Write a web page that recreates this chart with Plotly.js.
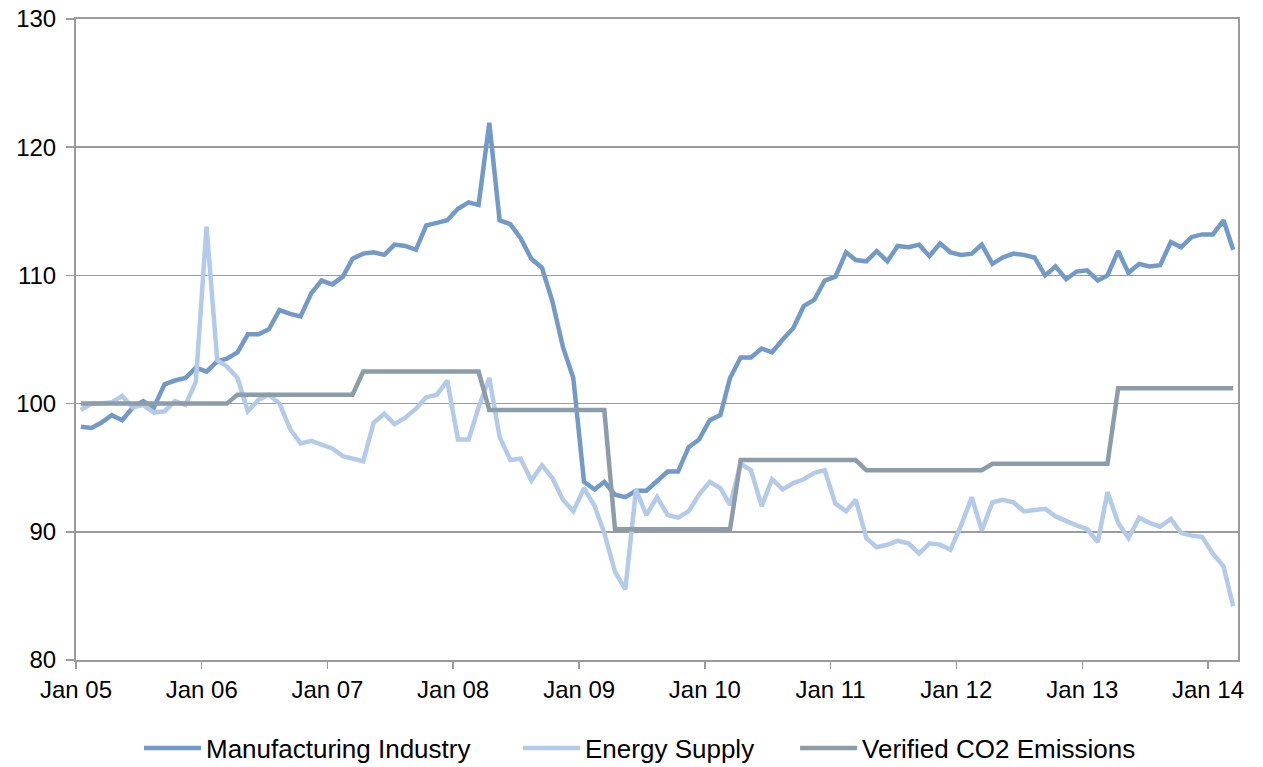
<!DOCTYPE html>
<html>
<head>
<meta charset="utf-8">
<script src="https://cdn.plot.ly/plotly-3.0.1.min.js"></script>
<style>
  html, body { margin: 0; padding: 0; background: #fff; }
  #grafico { width: 1263px; height: 767px; }
</style>
</head>
<body>
<div id="grafico"></div>
<script>
// Monatswerte Jan 2005 - Mrz 2014 (Index, 2005 = 100)
const manufacturing = [
  98.2, 98.1, 98.5, 99.1, 98.7, 99.7, 100.2, 99.7, 101.5, 101.8, 102.0, 102.8,
  102.5, 103.3, 103.5, 104.0, 105.4, 105.4, 105.8, 107.3, 107.0, 106.8, 108.6, 109.6,
  109.3, 109.9, 111.3, 111.7, 111.8, 111.6, 112.4, 112.3, 112.0, 113.9, 114.1, 114.3,
  115.2, 115.7, 115.5, 121.9, 114.3, 114.0, 112.9, 111.3, 110.6, 108.0, 104.4, 102.0,
  93.9, 93.3, 93.9, 92.9, 92.7, 93.2, 93.2, 94.0, 94.7, 94.7, 96.6, 97.2,
  98.7, 99.1, 102.0, 103.6, 103.6, 104.3, 104.0, 105.0, 105.9, 107.6, 108.1, 109.6,
  109.9, 111.8, 111.2, 111.1, 111.9, 111.1, 112.3, 112.2, 112.4, 111.5, 112.5, 111.8,
  111.6, 111.7, 112.4, 110.9, 111.4, 111.7, 111.6, 111.4, 110.0, 110.7, 109.7, 110.3,
  110.4, 109.6, 110.0, 111.9, 110.2, 110.9, 110.7, 110.8, 112.6, 112.2, 113.0, 113.2,
  113.2, 114.3, 112.0
];

const energySupply = [
  99.5, 100.0, 100.0, 100.1, 100.6, 99.7, 99.9, 99.3, 99.4, 100.2, 99.9, 101.7,
  113.8, 103.4, 102.9, 102.0, 99.4, 100.3, 100.7, 100.0, 98.0, 96.9, 97.1, 96.8,
  96.5, 95.9, 95.7, 95.5, 98.5, 99.2, 98.4, 98.9, 99.6, 100.5, 100.7, 101.8,
  97.2, 97.2, 99.7, 102.0, 97.4, 95.6, 95.7, 94.0, 95.2, 94.2, 92.5, 91.6,
  93.4, 92.0, 89.9, 86.9, 85.5, 93.3, 91.3, 92.7, 91.3, 91.1, 91.6, 92.9,
  93.9, 93.4, 92.1, 95.3, 94.8, 92.0, 94.1, 93.3, 93.8, 94.1, 94.6, 94.8,
  92.2, 91.6, 92.5, 89.5, 88.8, 89.0, 89.3, 89.1, 88.3, 89.1, 89.0, 88.6,
  90.5, 92.7, 90.1, 92.3, 92.5, 92.3, 91.6, 91.7, 91.8, 91.2, 90.8, 90.5,
  90.2, 89.2, 93.1, 90.7, 89.5, 91.1, 90.7, 90.4, 91.0, 89.9, 89.7, 89.6,
  88.3, 87.3, 84.2
];

const verifiedCO2 = [
  100.0, 100.0, 100.0, 100.0, 100.0, 100.0, 100.0, 100.0, 100.0, 100.0, 100.0, 100.0,
  100.0, 100.0, 100.0, 100.7, 100.7, 100.7, 100.7, 100.7, 100.7, 100.7, 100.7, 100.7,
  100.7, 100.7, 100.7, 102.5, 102.5, 102.5, 102.5, 102.5, 102.5, 102.5, 102.5, 102.5,
  102.5, 102.5, 102.5, 99.5, 99.5, 99.5, 99.5, 99.5, 99.5, 99.5, 99.5, 99.5,
  99.5, 99.5, 99.5, 90.2, 90.2, 90.2, 90.2, 90.2, 90.2, 90.2, 90.2, 90.2,
  90.2, 90.2, 90.2, 95.6, 95.6, 95.6, 95.6, 95.6, 95.6, 95.6, 95.6, 95.6,
  95.6, 95.6, 95.6, 94.8, 94.8, 94.8, 94.8, 94.8, 94.8, 94.8, 94.8, 94.8,
  94.8, 94.8, 94.8, 95.3, 95.3, 95.3, 95.3, 95.3, 95.3, 95.3, 95.3, 95.3,
  95.3, 95.3, 95.3, 101.2, 101.2, 101.2, 101.2, 101.2, 101.2, 101.2, 101.2, 101.2,
  101.2, 101.2, 101.2
];

const tickYears = [2005, 2006, 2007, 2008, 2009, 2010, 2011, 2012, 2013, 2014];

// Monatsmitte als Datum
const meses = manufacturing.map((_, i) => {
    const year = 2005 + Math.floor(i / 12);
    const month = String(i % 12 + 1).padStart(2, '0');
    return year + '-' + month + '-15';
});

const fuente = { family: 'Liberation Sans, Arial, sans-serif', size: 24, color: '#000000' };
const fuenteLeyenda = { family: 'Liberation Sans, Arial, sans-serif', size: 26, color: '#000000' };
const gris = '#9b9b9b';

const traces = [
    {
        x: meses, y: manufacturing, name: 'Manufacturing Industry',
        type: 'scatter', mode: 'lines', legend: 'legend',
        line: { color: '#7399c7', width: 4.5 }
    },
    {
        x: meses, y: energySupply, name: 'Energy Supply',
        type: 'scatter', mode: 'lines', legend: 'legend2',
        line: { color: '#b3cbe9', width: 4.5 }
    },
    {
        x: meses, y: verifiedCO2, name: 'Verified CO2 Emissions',
        type: 'scatter', mode: 'lines', legend: 'legend3',
        line: { color: '#8c9ca9', width: 4.5 }
    }
];

// eine Legende pro Serie, damit die Abstände wie im Original sind
function leyenda(x) {
    return {
        orientation: 'h',
        x: x, xanchor: 'left',
        y: -0.1373, yanchor: 'middle',
        font: fuenteLeyenda,
        itemwidth: 57,
        bgcolor: 'rgba(0,0,0,0)'
    };
}

const layout = {
    width: 1263,
    height: 767,
    margin: { l: 76, r: 25, t: 19, b: 107, autoexpand: false },
    paper_bgcolor: '#ffffff',
    plot_bgcolor: '#ffffff',
    font: fuente,
    showlegend: true,
    legend: leyenda(0.0542),
    legend2: leyenda(0.3804),
    legend3: leyenda(0.6188),
    xaxis: {
        type: 'date',
        range: ['2005-01-01', '2014-03-29'],
        tickvals: tickYears.map(y => y + '-01-01'),
        ticktext: tickYears.map(y => 'Jan ' + String(y).slice(2)),
        ticks: 'outside', ticklen: 7, tickwidth: 1.5, tickcolor: gris,
        showline: true, linecolor: gris, linewidth: 2, mirror: true,
        showgrid: false, zeroline: false,
        tickfont: fuente
    },
    yaxis: {
        range: [80, 130],
        tickvals: [80, 90, 100, 110, 120, 130],
        ticks: 'outside', ticklen: 8, tickwidth: 1.5, tickcolor: gris,
        ticklabelstandoff: 5,
        showline: true, linecolor: gris, linewidth: 2, mirror: true,
        showgrid: true, gridcolor: gris, gridwidth: 1.5,
        zeroline: false,
        tickfont: fuente
    }
};

Plotly.newPlot('grafico', traces, layout, { displayModeBar: false, staticPlot: true });
</script>
</body>
</html>
